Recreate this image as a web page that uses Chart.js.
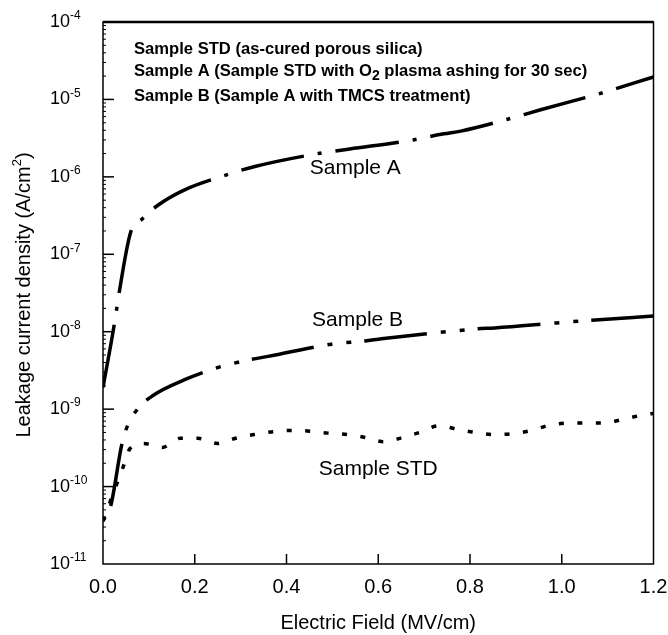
<!DOCTYPE html>
<html>
<head>
<meta charset="utf-8">
<script src="https://cdn.jsdelivr.net/npm/chart.js@4.4.0/dist/chart.umd.min.js"></script>
<style>
  body { margin: 0; background: #fff; }
  canvas { display: block; }
</style>
</head>
<body>
<canvas id="leakChart" width="668" height="635"></canvas>
<script>
// values (field in MV/cm, current in A/cm2)
const aField = [0, 0.023, 0.029, 0.034, 0.06, 0.086, 0.122, 0.178, 0.258, 0.331, 0.469, 0.538, 0.676, 0.743, 0.78, 0.88, 0.952, 1.091, 1.2];
const aCurrent = [1.9e-9, 1.09e-8, 1.84e-8, 2.88e-8, 1.9e-7, 2.88e-7, 4.4e-7, 6.8e-7, 1.01e-6, 1.36e-6, 2.0e-6, 2.29e-6, 3.0e-6, 3.6e-6, 3.9e-6, 5.5e-6, 7.3e-6, 1.23e-5, 1.95e-5];

const bField = [0, 0.017, 0.041, 0.052, 0.075, 0.109, 0.178, 0.247, 0.284, 0.324, 0.36, 0.498, 0.571, 0.607, 0.742, 0.816, 0.854, 0.989, 1.065, 1.2];
const bCurrent = [3.6e-11, 5.7e-11, 3.5e-10, 5.8e-10, 1.0e-9, 1.5e-9, 2.4e-9, 3.4e-9, 3.9e-9, 4.4e-9, 4.8e-9, 6.9e-9, 7.6e-9, 8.1e-9, 9.9e-9, 1.09e-8, 1.12e-8, 1.3e-8, 1.41e-8, 1.59e-8];

const stdField = [0, 0.02, 0.044, 0.059, 0.088, 0.129, 0.168, 0.207, 0.25, 0.289, 0.329, 0.371, 0.411, 0.451, 0.491, 0.532, 0.573, 0.612, 0.653, 0.694, 0.731, 0.772, 0.811, 0.853, 0.892, 0.934, 0.973, 1.013, 1.052, 1.091, 1.138, 1.185, 1.2];
const stdCurrent = [3.6e-11, 7.5e-11, 1.8e-10, 3.1e-10, 3.6e-10, 3.2e-10, 4.2e-10, 4.2e-10, 3.6e-10, 4.2e-10, 4.7e-10, 5.1e-10, 5.3e-10, 5.2e-10, 4.9e-10, 4.7e-10, 4.3e-10, 3.8e-10, 4.3e-10, 5.1e-10, 6.1e-10, 5.5e-10, 5.0e-10, 4.7e-10, 4.8e-10, 5.3e-10, 6.2e-10, 6.6e-10, 6.6e-10, 6.6e-10, 7.5e-10, 8.6e-10, 8.8e-10];

const xTickValues = [0, 0.2, 0.4, 0.6, 0.8, 1.0, 1.2];
const yTickExponents = [-4, -5, -6, -7, -8, -9, -10, -11];

const curveLabels = [
  { text: 'Sample A', x: 0.55, y: 1.3e-6 },
  { text: 'Sample B', x: 0.555, y: 1.4e-8 },
  { text: 'Sample STD', x: 0.6, y: 1.7e-10 }
];

const FONT = '"Liberation Sans", Arial, Helvetica, sans-serif';

function toPoints(xs, ys) {
  return xs.map((x, i) => ({ x: x, y: ys[i] }));
}

// draws text with a raised or lowered smaller part
function drawParts(ctx, parts, x, y) {
  let cx = x;
  parts.forEach(p => {
    ctx.font = p.font;
    ctx.fillText(p.text, cx, y + (p.dy || 0));
    cx += ctx.measureText(p.text).width;
  });
  return cx - x;
}

function partsWidth(ctx, parts) {
  let w = 0;
  parts.forEach(p => { ctx.font = p.font; w += ctx.measureText(p.text).width; });
  return w;
}

const frameAndLabels = {
  id: 'frameAndLabels',
  afterDraw(chart) {
    const ctx = chart.ctx;
    const { left, right, top, bottom } = chart.chartArea;
    const xs = chart.scales.x;
    const ys = chart.scales.y;
    ctx.save();
    ctx.strokeStyle = '#000';
    ctx.fillStyle = '#000';

    // frame
    ctx.lineWidth = 1.5;
    ctx.strokeRect(left, top, right - left, bottom - top);
    ctx.lineWidth = 2.5;
    ctx.beginPath();
    ctx.moveTo(left, top);
    ctx.lineTo(right, top);
    ctx.stroke();

    // x ticks and labels
    ctx.lineWidth = 1.5;
    ctx.textAlign = 'center';
    ctx.textBaseline = 'middle';
    xTickValues.forEach(v => {
      const px = xs.getPixelForValue(v);
      if (v > 0 && v < 1.2) {
        ctx.beginPath();
        ctx.moveTo(px, bottom);
        ctx.lineTo(px, bottom - 10);
        ctx.stroke();
      }
      ctx.font = '20px ' + FONT;
      ctx.fillText(v.toFixed(1), px, bottom + 23);
    });

    // y ticks, minor ticks and labels
    ctx.textAlign = 'left';
    yTickExponents.forEach(e => {
      const py = ys.getPixelForValue(Math.pow(10, e));
      if (e < -4 && e > -11) {
        ctx.lineWidth = 1.5;
        ctx.beginPath();
        ctx.moveTo(left, py);
        ctx.lineTo(left + 11, py);
        ctx.stroke();
      }
      if (e > -11) {
        ctx.lineWidth = 1;
        for (let m = 2; m <= 9; m++) {
          const my = ys.getPixelForValue(m * Math.pow(10, e - 1));
          ctx.beginPath();
          ctx.moveTo(left, my);
          ctx.lineTo(left + 3, my);
          ctx.stroke();
        }
      }
      ctx.textBaseline = 'middle';
      drawParts(ctx, [
        { text: '10', font: '18px ' + FONT },
        { text: String(e), font: '12px ' + FONT, dy: -6 }
      ], 50, py);
    });

    // axis titles
    ctx.textAlign = 'center';
    ctx.font = '20px ' + FONT;
    ctx.fillText('Electric Field (MV/cm)', (left + right) / 2, 623);

    ctx.save();
    ctx.translate(24, 295);
    ctx.rotate(-Math.PI / 2);
    ctx.textAlign = 'left';
    const titleParts = [
      { text: 'Leakage current density (A/cm', font: '20px ' + FONT },
      { text: '2', font: '13px ' + FONT, dy: -7 },
      { text: ')', font: '20px ' + FONT }
    ];
    drawParts(ctx, titleParts, -partsWidth(ctx, titleParts) / 2, 0);
    ctx.restore();

    // legend text block
    ctx.textAlign = 'left';
    ctx.textBaseline = 'middle';
    const bold = 'bold 16.6px ' + FONT;
    drawParts(ctx, [{ text: 'Sample STD (as-cured porous silica)', font: bold }], 134, 49);
    drawParts(ctx, [
      { text: 'Sample A (Sample STD with O', font: bold },
      { text: '2', font: 'bold 14px ' + FONT, dy: 5 },
      { text: ' plasma ashing for 30 sec)', font: bold }
    ], 134, 71);
    drawParts(ctx, [{ text: 'Sample B (Sample A with TMCS treatment)', font: bold }], 134, 96);

    // curve labels
    ctx.textAlign = 'center';
    ctx.font = '21px ' + FONT;
    curveLabels.forEach(l => {
      ctx.fillText(l.text, xs.getPixelForValue(l.x), ys.getPixelForValue(l.y));
    });

    ctx.restore();
  }
};

const ctx = document.getElementById('leakChart').getContext('2d');
const leakChart = new Chart(ctx, {
  type: 'line',
  data: {
    datasets: [
      {
        label: 'Sample A',
        data: toPoints(aField, aCurrent),
        borderColor: '#000',
        borderWidth: 3.5,
        borderDash: [64, 14, 4, 14],
        borderDashOffset: 0
      },
      {
        label: 'Sample B',
        data: toPoints(bField, bCurrent),
        borderColor: '#000',
        borderWidth: 3.5,
        borderDash: [63, 14, 5, 14, 5, 13],
        borderDashOffset: 97
      },
      {
        label: 'Sample STD',
        data: toPoints(stdField, stdCurrent),
        borderColor: '#000',
        borderWidth: 3.5,
        borderDash: [5, 13.5],
        borderDashOffset: 0
      }
    ]
  },
  options: {
    responsive: false,
    devicePixelRatio: 1,
    animation: false,
    layout: { padding: { left: 103, right: 14.5, top: 22, bottom: 71 } },
    elements: {
      point: { radius: 0 },
      line: { cubicInterpolationMode: 'monotone', borderCapStyle: 'butt', fill: false }
    },
    scales: {
      x: { type: 'linear', min: 0, max: 1.2, display: false },
      y: { type: 'logarithmic', min: 1e-11, max: 1e-4, display: false }
    },
    plugins: {
      legend: { display: false },
      tooltip: { enabled: false }
    }
  },
  plugins: [frameAndLabels]
});
</script>
</body>
</html>
